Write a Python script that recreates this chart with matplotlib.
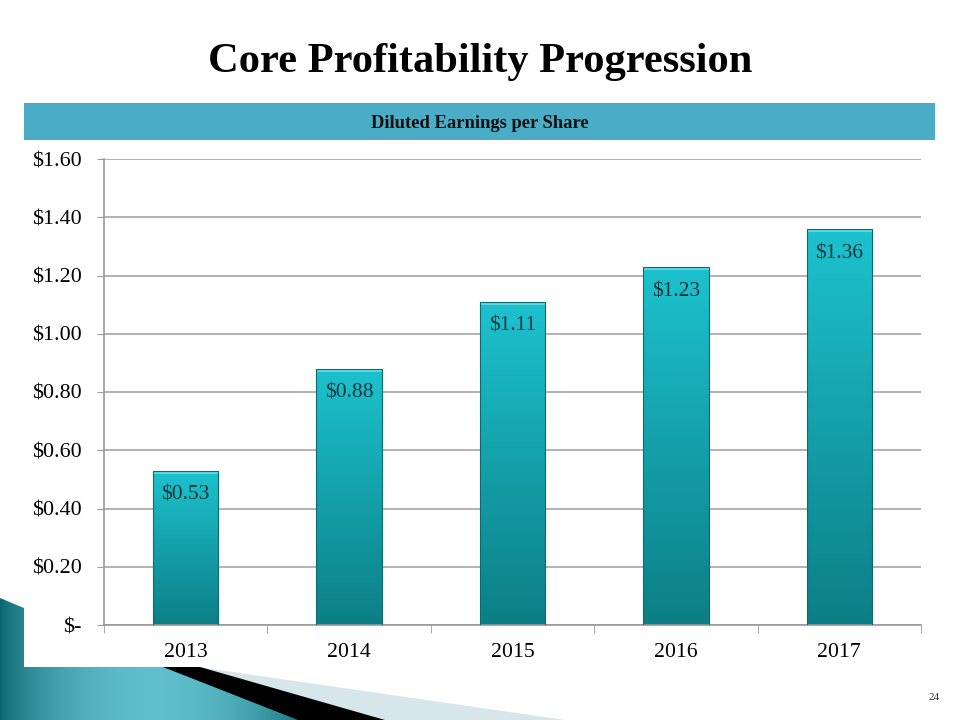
import numpy as np
import matplotlib
matplotlib.use('Agg')
import matplotlib.pyplot as plt
from matplotlib.patches import Polygon, Rectangle

plt.rcParams['font.family'] = ['Liberation Serif', 'DejaVu Serif']

# data
years = ['2013', '2014', '2015', '2016', '2017']
eps = [0.53, 0.88, 1.11, 1.23, 1.36]
eps_labels = ['$0.53', '$0.88', '$1.11', '$1.23', '$1.36']
yticks = [0, 0.2, 0.4, 0.6, 0.8, 1.0, 1.2, 1.4, 1.6]
ytick_labels = ['$-', '$0.20', '$0.40', '$0.60', '$0.80', '$1.00', '$1.20', '$1.40', '$1.60']

fig = plt.figure(figsize=(9.6, 7.2), dpi=100)

# background slide decoration, pixel coordinates
bg = fig.add_axes([0, 0, 1, 1], zorder=0)
bg.set_xlim(0, 960)
bg.set_ylim(720, 0)
bg.axis('off')

light = Polygon([(198, 667), (565, 720), (383, 720)], closed=True,
                facecolor='#D6E6EA', edgecolor='none')
bg.add_patch(light)
black = Polygon([(163, 667), (200, 667), (385, 720), (298, 720)], closed=True,
                facecolor='black', edgecolor='none')
bg.add_patch(black)
teal = Polygon([(0, 598), (165, 667), (300, 720), (0, 720)], closed=True,
               facecolor='none', edgecolor='none')
bg.add_patch(teal)
grad = np.linspace(0, 1, 256).reshape(1, -1)
im = bg.imshow(np.sin(grad * np.pi) ** 0.7, cmap=matplotlib.colors.LinearSegmentedColormap.from_list(
    'tl', ['#0A6670', '#5FBECB']), extent=(0, 310, 720, 595), aspect='auto')
im.set_clip_path(teal)

# white panel and header band
bg.add_patch(Rectangle((24, 140), 911, 527, facecolor='white', edgecolor='none'))
bg.add_patch(Rectangle((24, 103), 911, 37, facecolor='#4BACC6', edgecolor='none'))
bg.text(480, 123, 'Diluted Earnings per Share', ha='center', va='center',
        fontsize=13.4, fontweight='bold', color='#111111')
bg.text(480, 62, 'Core Profitability Progression', ha='center', va='center',
        fontsize=30.6, fontweight='bold', color='black')
bg.text(940, 697, '24', ha='right', va='center', fontsize=8, color='#333333')

# chart
ax = fig.add_axes([104 / 960, 1 - 625 / 720, 817 / 960, 466 / 720], zorder=1)
ax.patch.set_alpha(0)
x = np.arange(len(years))
w = 0.4
bars = ax.bar(x, eps, width=w, color='none', edgecolor='#0C6A70', linewidth=0.8, zorder=3)
bar_cmap = matplotlib.colors.LinearSegmentedColormap.from_list('bar', ['#0C7F86', '#1CC2CE'])
vgrad = np.linspace(0, 1, 256).reshape(-1, 1)
for b, v in zip(bars, eps):
    bx = b.get_x()
    gi = ax.imshow(vgrad, cmap=bar_cmap, origin='lower', aspect='auto',
                   extent=(bx, bx + w, 0, v), zorder=2)
    gi.set_clip_path(b)
    # lighter bevel at top
    ax.add_patch(Rectangle((bx, v - 0.012), w, 0.012, facecolor='#5FD6DE',
                           edgecolor='none', zorder=2.5))

for xi, v, lab in zip(x, eps, eps_labels):
    ax.text(xi, v - 0.085, lab, ha='center', va='center', fontsize=15.5,
            color='#17373A', zorder=4)

ax.set_xlim(-0.5, len(years) - 0.5)
ax.set_ylim(0, 1.6)
ax.set_yticks(yticks)
ax.set_yticklabels(ytick_labels, fontsize=15.8)
ax.set_xticks(x)
ax.set_xticklabels(years, fontsize=15.7)
ax.set_xticks(np.arange(-0.5, len(years)), minor=True)
ax.tick_params(axis='x', which='major', length=0, pad=13)
ax.tick_params(axis='x', which='minor', length=6, color='#999999')
ax.tick_params(axis='y', length=5, color='#999999', pad=11)
ax.grid(axis='y', color='#A6A6A6', linewidth=1.2, zorder=1)
ax.set_axisbelow(True)
for s in ['top', 'right']:
    ax.spines[s].set_visible(False)
ax.spines['left'].set_color('#999999')
ax.spines['bottom'].set_color('#999999')
ax.spines['left'].set_linewidth(1.2)
ax.spines['bottom'].set_linewidth(1.2)

fig.savefig('out.png', dpi=100)
